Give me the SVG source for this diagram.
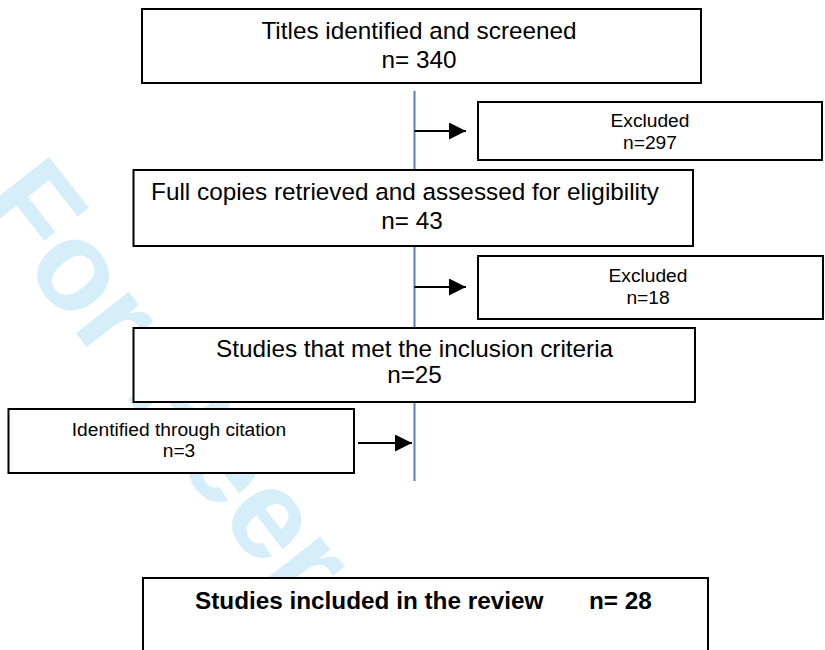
<svg xmlns="http://www.w3.org/2000/svg" width="825" height="650" viewBox="0 0 825 650">
  <style>
    .box { fill: #ffffff; stroke: #000000; stroke-width: 2; }
    .t { font-family: "Liberation Sans", Arial, sans-serif; fill: #000000; }
    .big { font-size: 24.3px; }
    .small { font-size: 19.2px; }
    .bold { font-size: 24.3px; font-weight: bold; }
    .mid { text-anchor: middle; }
    .flow { stroke: #4f81bd; stroke-width: 2; fill: none; }
    .arrow { stroke: #000000; stroke-width: 2; fill: none; }
    .wm { font-family: "Liberation Sans", Arial, sans-serif; font-weight: bold; font-size: 127px; fill: #d5eefa; }
  </style>
  <defs>
    <marker id="ah" markerUnits="userSpaceOnUse" markerWidth="18" markerHeight="18" refX="17" refY="8.5" orient="auto">
      <path d="M0,0 L17,8.5 L0,17 Z" fill="#000000"/>
    </marker>
  </defs>
  <rect x="0" y="0" width="825" height="650" fill="#ffffff"/>
  <text class="wm" transform="translate(-25,204) rotate(52)">For Peer</text>
  <g id="connectors">
    <line class="flow" x1="414.5" y1="91" x2="414.5" y2="481"/>
    <line class="arrow" x1="414.5" y1="131" x2="466" y2="131" marker-end="url(#ah)"/>
    <line class="arrow" x1="414.5" y1="287" x2="466" y2="287" marker-end="url(#ah)"/>
    <line class="arrow" x1="358" y1="443" x2="412" y2="443" marker-end="url(#ah)"/>
  </g>
  <g id="titles">
    <rect class="box" x="142" y="9" width="559" height="74"/>
    <text class="t big mid" x="419" y="39">Titles identified and screened</text>
    <text class="t big mid" x="419" y="68">n= 340</text>
  </g>
  <g id="excluded1">
    <rect class="box" x="478" y="102" width="344" height="58"/>
    <text class="t small mid" x="650" y="127">Excluded</text>
    <text class="t small mid" x="650" y="149">n=297</text>
  </g>
  <g id="fullcopies">
    <rect class="box" x="133.5" y="170" width="559.5" height="76"/>
    <text class="t big mid" x="405" y="200">Full copies retrieved and assessed for eligibility</text>
    <text class="t big mid" x="412" y="229">n= 43</text>
  </g>
  <g id="excluded2">
    <rect class="box" x="478" y="256" width="345" height="63"/>
    <text class="t small mid" x="648" y="282">Excluded</text>
    <text class="t small mid" x="648" y="304">n=18</text>
  </g>
  <g id="inclusion">
    <rect class="box" x="133.5" y="328" width="561.5" height="74"/>
    <text class="t big" x="216" y="357">Studies that met the inclusion criteria</text>
    <text class="t big mid" x="414.5" y="383">n=25</text>
  </g>
  <g id="citation">
    <rect class="box" x="8.5" y="409" width="345.5" height="64"/>
    <text class="t small mid" x="179" y="436">Identified through citation</text>
    <text class="t small mid" x="179" y="457">n=3</text>
  </g>
  <g id="included">
    <rect class="box" x="143" y="578" width="565" height="90"/>
    <text class="t bold" x="195" y="609">Studies included in the review</text>
    <text class="t bold" x="589" y="609">n= 28</text>
  </g>
</svg>
